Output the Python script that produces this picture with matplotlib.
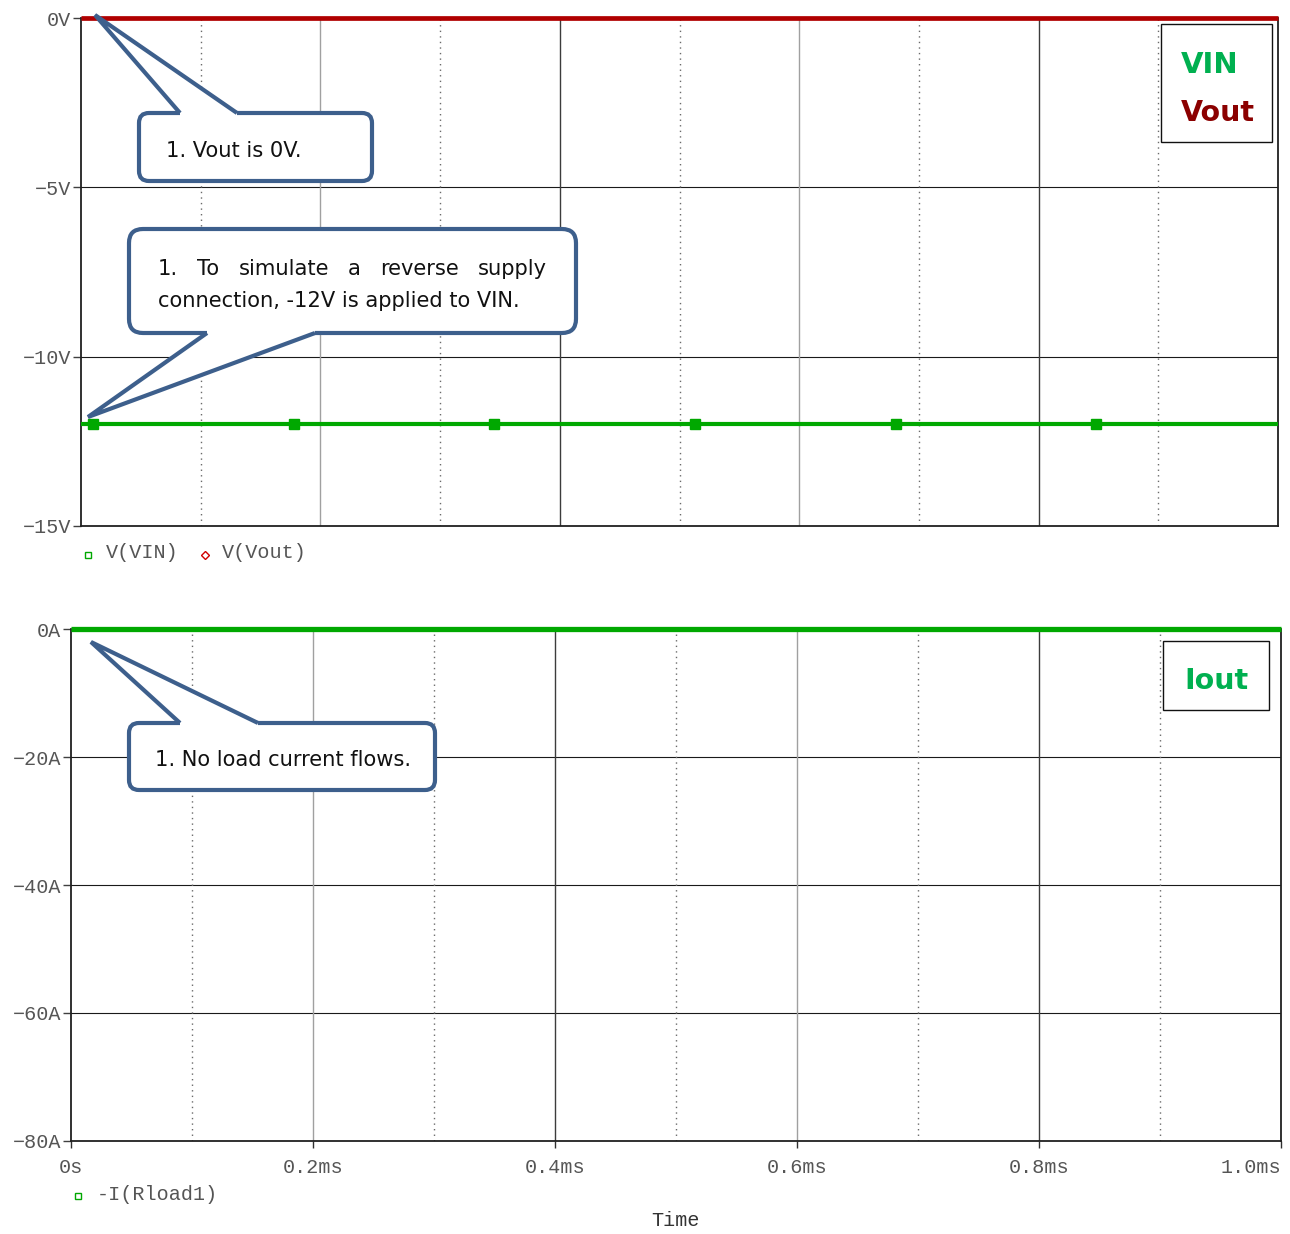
import numpy as np
import matplotlib
matplotlib.use("Agg")
import matplotlib.pyplot as plt
from matplotlib.patches import FancyBboxPatch, Polygon, Rectangle

# ---- simulation traces (time in ms) ----
t_ms = [0.0, 1.0]
v_vin = [-12.0, -12.0]
v_vout = [0.0, 0.0]
i_load = [0.0, 0.0]
vin_marker_t = [0.01, 0.178, 0.345, 0.513, 0.681, 0.848]

v_ticks = [0, -5, -10, -15]
v_ticklabels = ["0V", "−5V", "−10V", "−15V"]
i_ticks = [0, -20, -40, -60, -80]
i_ticklabels = ["0A", "−20A", "−40A", "−60A", "−80A"]
t_ticks = [0.0, 0.2, 0.4, 0.6, 0.8, 1.0]
t_ticklabels = ["0s", "0.2ms", "0.4ms", "0.6ms", "0.8ms", "1.0ms"]

W, H = 1290, 1234
GREEN = "#00a800"
RED = "#b00000"
EDGE = "#3d5f8c"
MONO = ["Liberation Mono", "DejaVu Sans Mono"]
LABEL_GRAY = "#555555"

fig = plt.figure(figsize=(W / 100, H / 100), dpi=100)
ax1 = fig.add_axes([81 / W, 1 - 526 / H, 1197 / W, 508 / H])
ax2 = fig.add_axes([71 / W, 1 - 1141 / H, 1210 / W, 512 / H])


def style_grid(ax, yticks):
    for y in yticks[1:-1]:
        ax.axhline(y, color="#1a1a1a", lw=0.8, zorder=1)
    for x in [0.2, 0.6]:
        ax.axvline(x, color="#a0a0a0", lw=1.0, zorder=1)
    for x in [0.4, 0.8]:
        ax.axvline(x, color="#3c3c3c", lw=1.0, zorder=1)
    for x in [0.1, 0.3, 0.5, 0.7, 0.9]:
        ax.axvline(x, color="#6a6a6a", lw=1.0, ls=(0, (1, 3)), zorder=1)
    for s in ["left", "bottom", "right"]:
        ax.spines[s].set_color("#202020")
        ax.spines[s].set_linewidth(1.3)
    ax.spines["top"].set_visible(False)
    ax.tick_params(axis="y", direction="out", length=6, width=1.0,
                   color="#404040", pad=1, labelsize=14.5, labelcolor=LABEL_GRAY)
    for lab in ax.get_yticklabels():
        lab.set_family(MONO)


# ---- voltage panel ----
ax1.plot(t_ms, v_vout, color=RED, lw=3.4, clip_on=False, zorder=6,
         solid_capstyle="butt")
ax1.plot(t_ms, v_vin, color=GREEN, lw=3.0, zorder=5, solid_capstyle="butt")
ax1.plot(vin_marker_t, np.interp(vin_marker_t, t_ms, v_vin), ls="none",
         marker="s", ms=6.5, color=GREEN, zorder=5)
ax1.set_xlim(0, 1.0)
ax1.set_ylim(-15, 0)
ax1.set_yticks(v_ticks)
ax1.set_yticklabels(v_ticklabels)
ax1.tick_params(axis="x", bottom=False, labelbottom=False)
style_grid(ax1, v_ticks)

# ---- current panel ----
ax2.plot(t_ms, i_load, color=GREEN, lw=3.8, clip_on=False, zorder=6,
         solid_capstyle="butt")
ax2.set_xlim(0, 1.0)
ax2.set_ylim(-80, 0)
ax2.set_yticks(i_ticks)
ax2.set_yticklabels(i_ticklabels)
ax2.set_xticks(t_ticks)
ax2.set_xticklabels(t_ticklabels)
style_grid(ax2, i_ticks)
ax2.tick_params(axis="x", direction="out", length=5, width=1.0,
                color="#303030", pad=7, labelsize=14.5, labelcolor=LABEL_GRAY)
for lab in ax2.get_xticklabels():
    lab.set_family(MONO)
ax2.get_xticklabels()[-1].set_horizontalalignment("right")

# ---- overlay in pixel coordinates for annotations ----
ov = fig.add_axes([0, 0, 1, 1])
ov.set_xlim(0, W)
ov.set_ylim(H, 0)
ov.axis("off")

LW_CALL = 3.0


def callout(x0, y0, x1, y1, b1, b2, tip, side, r=10):
    ov.add_patch(FancyBboxPatch((x0, y0), x1 - x0, y1 - y0,
                                boxstyle=f"round,pad=0,rounding_size={r}",
                                fc="white", ec=EDGE, lw=LW_CALL, zorder=10))
    if side == "top":
        ye, yi = y0, y0 + 4
    else:
        ye, yi = y1, y1 - 4
    ov.add_patch(Polygon([(b1, yi), (b1, ye), tip, (b2, ye), (b2, yi)],
                         closed=True, fc="white", ec="none", zorder=11))
    ov.plot([b1, tip[0], b2], [ye, tip[1], ye], color=EDGE, lw=LW_CALL,
            zorder=12, solid_joinstyle="miter", solid_capstyle="butt")


TXT = dict(family="DejaVu Sans", fontsize=15.1, color="#111111",
           va="baseline", zorder=13)

callout(139, 113, 372, 181, 180, 237, (95, 15), "top")
ov.text(166, 157, "1. Vout is 0V.", **TXT)

callout(129, 229, 576, 333, 207, 315, (88, 417), "bottom", r=14)
# first line is fully justified between the text margins
words = ["1.", "To", "simulate", "a", "reverse", "supply"]
renderer = fig.canvas.get_renderer()
arts = [ov.text(0, 275, w, **TXT) for w in words]
widths = [a.get_window_extent(renderer).width for a in arts]
x_left, x_right = 158, 547
gap = (x_right - x_left - sum(widths)) / (len(words) - 1)
x = x_left
for a, w in zip(arts, widths):
    a.set_x(x)
    x += w + gap
ov.text(158, 307, "connection, -12V is applied to VIN.", **TXT)

callout(129, 723, 435, 790, 180, 258, (91, 642), "top")
ov.text(155, 766, "1. No load current flows.", **TXT)

# trace name boxes
ov.add_patch(Rectangle((1161, 24), 111, 118, fc="white", ec="#111111",
                       lw=1.0, zorder=10))
ov.text(1181, 73, "VIN", fontsize=21, fontweight="bold", color="#00b050",
        family="DejaVu Sans", va="baseline", zorder=13)
ov.text(1181, 121, "Vout", fontsize=20.5, fontweight="bold", color="#8b0000",
        family="DejaVu Sans", va="baseline", zorder=13)
ov.add_patch(Rectangle((1163, 641), 106, 69, fc="white", ec="#111111",
                       lw=1.0, zorder=10))
ov.text(1216, 689, "Iout", fontsize=20.5, fontweight="bold", color="#00b050",
        family="DejaVu Sans", va="baseline", ha="center", zorder=13)

# probe legends
ov.plot([88], [555], ls="none", marker="s", ms=5, mfc="none", mec=GREEN, mew=1.0)
ov.text(106, 553, "V(VIN)", family=MONO, fontsize=14.5, color=LABEL_GRAY, va="center")
ov.plot([205], [555], ls="none", marker="D", ms=4.5, mfc="none", mec="#d00000", mew=1.0)
ov.text(222, 553, "V(Vout)", family=MONO, fontsize=14.5, color=LABEL_GRAY, va="center")
ov.plot([78], [1196], ls="none", marker="s", ms=5, mfc="none", mec=GREEN, mew=1.0)
ov.text(97, 1194, "-I(Rload1)", family=MONO, fontsize=14.5, color=LABEL_GRAY, va="center")
ov.text(676, 1221, "Time", family=MONO, fontsize=14.5, color="#333333",
        va="center", ha="center")

fig.savefig("out.png", dpi=100)
